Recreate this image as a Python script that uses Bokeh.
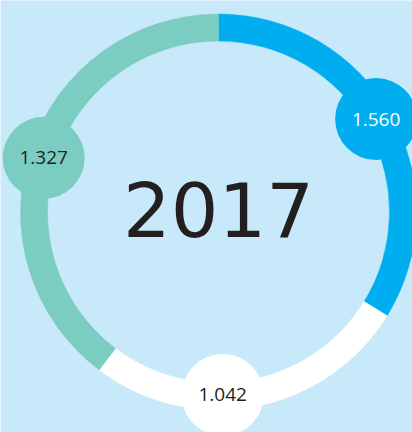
import math
from bokeh.plotting import figure
from bokeh.models import Range1d, ColumnDataSource
from bokeh.core.properties import value
from bokeh.embed import file_html
from bokeh.resources import INLINE

# --- data ---
year = "2017"
bubble_labels = ["1.560", "1.042", "1.327"]          # clockwise from the top
bubble_values = [1.560, 1.042, 1.327]
bubble_colors = ["#00AEEF", "#FFFFFF", "#7CCDC1"]
bubble_text_colors = ["#FFFFFF", "#231F20", "#231F20"]
# the ring arcs, drawn clockwise from 12 o'clock, as they appear in the picture
arc_values = [1.327, 1.042, 1.560]
arc_colors = ["#00AEEF", "#FFFFFF", "#7CCDC1"]

BG = "#C7E9F9"
W, H = 412, 432
cx, cy = 218, H - 211.5
r_in, r_out = 171, 198
r_mid = 183
bubble_r = 41
bubble_rotation = -12.0  # degrees, layout offset of the bubbles

total = sum(arc_values)
starts, ends = [], []
acc = 0.0
for v in arc_values:
    a0 = acc / total * 360.0
    acc += v
    a1 = acc / total * 360.0
    starts.append(math.radians(90 - a0))
    ends.append(math.radians(90 - a1))

btotal = sum(bubble_values)
bmids = []
acc = 0.0
for v in bubble_values:
    a0 = acc / btotal * 360.0
    acc += v
    a1 = acc / btotal * 360.0
    bmids.append((a0 + a1) / 2.0 + bubble_rotation)

p = figure(width=W, height=H, output_backend="svg", toolbar_location=None,
           x_range=Range1d(0, W), y_range=Range1d(0, H),
           x_axis_location=None, y_axis_location=None, min_border=0)
p.grid.visible = False
p.outline_line_color = None
p.background_fill_color = BG
p.border_fill_color = BG

arc_src = ColumnDataSource(dict(x=[cx] * 3, y=[cy] * 3, s=starts, e=ends, c=arc_colors))
p.annular_wedge(x="x", y="y", inner_radius=r_in, outer_radius=r_out,
                start_angle="s", end_angle="e", direction="clock",
                fill_color="c", line_color="c", line_width=0.5, source=arc_src)

bx = [cx + r_mid * math.sin(math.radians(m)) for m in bmids]
by = [cy + r_mid * math.cos(math.radians(m)) for m in bmids]
b_src = ColumnDataSource(dict(x=bx, y=by, c=bubble_colors, t=bubble_labels, tc=bubble_text_colors))
p.circle(x="x", y="y", radius=bubble_r, fill_color="c", line_color=None, source=b_src)
p.text(x="x", y="y", text="t", text_color="tc", text_font=value("Open Sans"),
       text_font_size="19px", text_align="center", text_baseline="middle", source=b_src)

p.text(x=[cx], y=[H - 209], text=[year], text_color="#231F20",
       text_font=value("DejaVu Sans"), text_font_size="75px",
       text_align="center", text_baseline="middle")

open("out.html", "w").write(file_html(p, INLINE))
